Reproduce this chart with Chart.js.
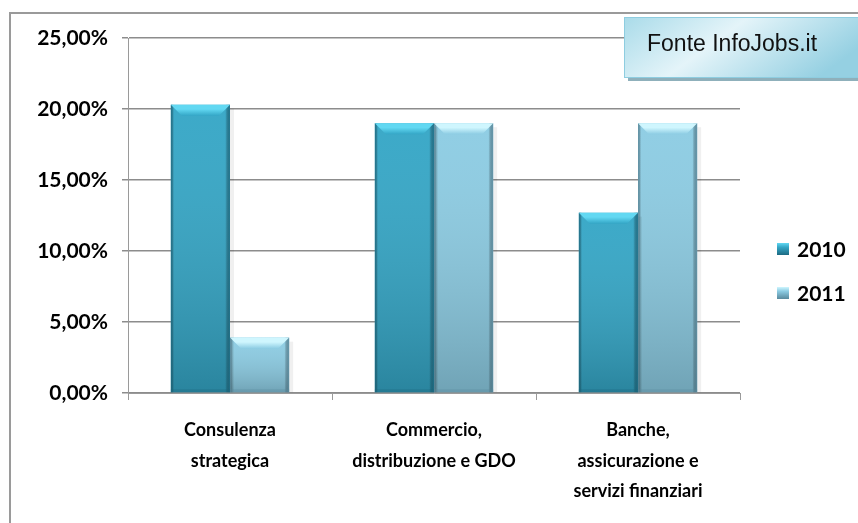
<!DOCTYPE html>
<html>
<head>
<meta charset="utf-8">
<script src="https://cdn.jsdelivr.net/npm/chart.js@4.4.1/dist/chart.umd.min.js"></script>
<style>
    html, body { margin: 0; padding: 0; background: #fff; }
</style>
</head>
<body>
<canvas id="settoriChart" width="858" height="523"></canvas>
<script>
const categorie = [
    ['Consulenza', 'strategica'],
    ['Commercio,', 'distribuzione e GDO'],
    ['Banche,', 'assicurazione e', 'servizi finanziari']
];
const anni = ['2010', '2011'];
const valori2010 = [20.3, 19.0, 12.7];
const valori2011 = [3.9, 19.0, 19.0];
const tickY = [0, 5, 10, 15, 20, 25];
const fonte = 'Fonte InfoJobs.it';

// colori: base, tappo superiore chiaro, bordo scuro
const stili = [
    { base: '#34a6c6', tappo: '#62d8f2', scuro: '#1d6a82' },
    { base: '#8ccce3', tappo: '#cff6fe', scuro: '#58899d' }
];

const formatoPerc = v => v.toFixed(2).replace('.', ',') + '%';

const effettiBarre = {
    id: 'effettiBarre',
    afterDatasetsDraw(chart) {
        const ctx = chart.ctx;
        chart.data.datasets.forEach((ds, i) => {
            const st = stili[i];
            chart.getDatasetMeta(i).data.forEach(bar => {
                const l = bar.x - bar.width / 2, r = bar.x + bar.width / 2;
                const t = bar.y, b = bar.base, h = b - t;
                ctx.save();
                // ombra a destra
                ctx.fillStyle = 'rgba(0,0,0,0.06)';
                ctx.fillRect(r, t + 4, 4, h - 4);
                // sfumatura verticale
                let g = ctx.createLinearGradient(0, t, 0, b);
                g.addColorStop(0, 'rgba(255,255,255,0.04)');
                g.addColorStop(1, 'rgba(0,0,0,0.2)');
                ctx.fillStyle = g;
                ctx.fillRect(l, t, r - l, h);
                // bordi laterali
                g = ctx.createLinearGradient(l, 0, r, 0);
                g.addColorStop(0, st.scuro);
                g.addColorStop(0.05, 'rgba(0,0,0,0)');
                g.addColorStop(0.92, 'rgba(0,0,0,0)');
                g.addColorStop(1, st.scuro);
                ctx.fillStyle = g;
                ctx.globalAlpha = 0.75;
                ctx.fillRect(l, t, r - l, h);
                // bordo inferiore
                ctx.fillStyle = st.scuro;
                ctx.globalAlpha = 0.35;
                ctx.fillRect(l, b - 3, r - l, 3);
                ctx.globalAlpha = 1;
                // smusso superiore
                const s = Math.min(11, h / 2);
                ctx.beginPath();
                ctx.moveTo(l, t);
                ctx.lineTo(r, t);
                ctx.lineTo(r - s, t + s);
                ctx.lineTo(l + s, t + s);
                ctx.closePath();
                g = ctx.createLinearGradient(0, t, 0, t + s);
                g.addColorStop(0, st.tappo);
                g.addColorStop(0.4, st.tappo);
                g.addColorStop(1, st.base);
                ctx.fillStyle = g;
                ctx.fill();
                ctx.restore();
            });
        });
    }
};

const decorazioni = {
    id: 'decorazioni',
    beforeDraw(chart) {
        const ctx = chart.ctx;
        ctx.save();
        ctx.fillStyle = '#fff';
        ctx.fillRect(0, 0, chart.width, chart.height);
        ctx.strokeStyle = '#9a9a9a';
        ctx.lineWidth = 2;
        ctx.strokeRect(10, 13, chart.width + 20, chart.height + 20);
        ctx.restore();
    },
    afterDraw(chart) {
        const ctx = chart.ctx;
        ctx.save();
        // riquadro fonte
        const bx = 624, by = 17, bw = 240, bh = 60;
        ctx.fillStyle = '#8fb0bb';
        ctx.fillRect(bx + 4, by + 4, bw, bh);
        const g = ctx.createLinearGradient(bx, by, bx + bw * 0.4, by + bh * 2.2);
        g.addColorStop(0, '#a9dbe9');
        g.addColorStop(0.45, '#e4f4f9');
        g.addColorStop(1, '#95d0e2');
        ctx.fillStyle = g;
        ctx.fillRect(bx, by, bw, bh);
        ctx.strokeStyle = '#8ecde0';
        ctx.lineWidth = 1;
        ctx.strokeRect(bx + 0.5, by + 0.5, bw, bh);
        ctx.fillStyle = '#111';
        ctx.font = '23px "Liberation Sans", Arial, sans-serif';
        ctx.textBaseline = 'alphabetic';
        ctx.fillText(fonte, 647, 51);

        // legenda
        ctx.font = 'bold 21px Lato, sans-serif';
        ctx.textBaseline = 'middle';
        chart.data.datasets.forEach((ds, i) => {
            const y = 249 + i * 44;
            const st = stili[i];
            const lg = ctx.createLinearGradient(0, y - 6, 0, y + 6);
            lg.addColorStop(0, st.tappo);
            lg.addColorStop(0.35, st.base);
            lg.addColorStop(1, st.scuro);
            ctx.fillStyle = lg;
            ctx.fillRect(777, y - 6, 12, 12);
            ctx.fillStyle = '#000';
            ctx.fillText(ds.label, 797, y + 1);
        });
        ctx.restore();
    }
};

document.addEventListener('DOMContentLoaded', () => {
    new Chart(document.getElementById('settoriChart'), {
        type: 'bar',
        data: {
            labels: categorie,
            datasets: [{
                label: anni[0],
                data: valori2010,
                backgroundColor: stili[0].base,
                borderWidth: 0
            }, {
                label: anni[1],
                data: valori2011,
                backgroundColor: stili[1].base,
                borderWidth: 0
            }]
        },
        options: {
            responsive: false,
            animation: false,
            devicePixelRatio: 1,
            categoryPercentage: 0.58,
            barPercentage: 1,
            layout: {
                padding: { left: 0, top: 38, right: 118, bottom: 0 }
            },
            plugins: {
                legend: { display: false },
                tooltip: { enabled: false }
            },
            scales: {
                x: {
                    offset: true,
                    grid: {
                        offset: true,
                        drawOnChartArea: false,
                        color: '#9a9a9a',
                        tickLength: 7
                    },
                    border: { color: '#9a9a9a', width: 1 },
                    ticks: {
                        color: '#000',
                        padding: 15,
                        maxRotation: 0,
                        autoSkip: false,
                        font: { family: 'Lato', weight: 'bold', size: 18, lineHeight: 1.7 }
                    },
                    afterFit(scale) { scale.height = 130; }
                },
                y: {
                    min: 0,
                    max: 25,
                    afterBuildTicks(scale) {
                        scale.ticks = tickY.map(v => ({ value: v }));
                    },
                    grid: {
                        color: '#8c8c8c',
                        lineWidth: 1.5,
                        tickLength: 6
                    },
                    border: { color: '#9a9a9a', width: 1 },
                    ticks: {
                        color: '#000',
                        padding: 14,
                        font: { family: 'Lato', weight: 'bold', size: 21 },
                        callback: v => formatoPerc(v)
                    },
                    afterFit(scale) { scale.width = 128; }
                }
            }
        },
        plugins: [effettiBarre, decorazioni]
    });
});
</script>
</body>
</html>
